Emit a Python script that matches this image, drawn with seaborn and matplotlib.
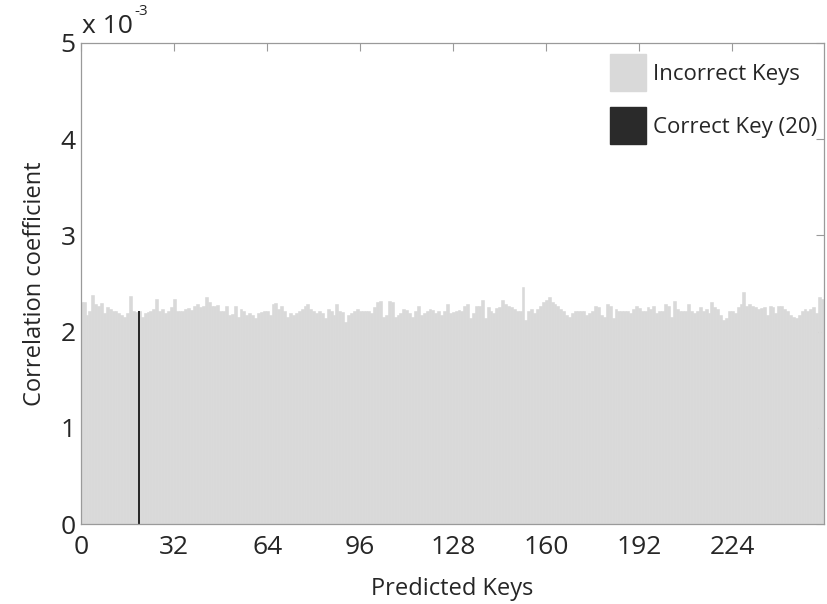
# Correlation of predicted keys (CPA style bar chart)

import numpy as np
import pandas as pd
import matplotlib
matplotlib.use("Agg")
import matplotlib.pyplot as plt
from matplotlib.patches import Patch
import seaborn as sns

# ==========================================
# Data (correlation values in units of 1e-3)
# ==========================================

keys = list(range(256))

corr_values = [
    2.31, 2.31, 2.17, 2.21, 2.38, 2.29, 2.27, 2.30, 2.19, 2.26,
    2.24, 2.21, 2.22, 2.19, 2.17, 2.15, 2.19, 2.37, 2.21, 2.20,
    2.22, 2.15, 2.19, 2.20, 2.21, 2.24, 2.34, 2.21, 2.24, 2.19,
    2.22, 2.26, 2.34, 2.22, 2.21, 2.21, 2.24, 2.25, 2.23, 2.27,
    2.29, 2.26, 2.27, 2.36, 2.31, 2.27, 2.27, 2.28, 2.21, 2.21,
    2.27, 2.17, 2.18, 2.27, 2.15, 2.24, 2.21, 2.17, 2.19, 2.17,
    2.14, 2.19, 2.20, 2.22, 2.21, 2.17, 2.29, 2.30, 2.24, 2.27,
    2.21, 2.15, 2.19, 2.17, 2.19, 2.21, 2.24, 2.27, 2.29, 2.24,
    2.21, 2.19, 2.22, 2.19, 2.14, 2.24, 2.22, 2.17, 2.29, 2.21,
    2.20, 2.10, 2.17, 2.19, 2.22, 2.24, 2.22, 2.22, 2.21, 2.21,
    2.19, 2.26, 2.31, 2.32, 2.15, 2.17, 2.32, 2.31, 2.15, 2.17,
    2.19, 2.24, 2.23, 2.19, 2.15, 2.21, 2.27, 2.17, 2.19, 2.22,
    2.24, 2.23, 2.19, 2.21, 2.17, 2.22, 2.29, 2.19, 2.20, 2.21,
    2.23, 2.22, 2.27, 2.29, 2.14, 2.19, 2.27, 2.27, 2.33, 2.14,
    2.26, 2.22, 2.19, 2.25, 2.26, 2.33, 2.29, 2.27, 2.26, 2.24,
    2.21, 2.22, 2.46, 2.12, 2.21, 2.24, 2.19, 2.24, 2.27, 2.31,
    2.33, 2.36, 2.31, 2.29, 2.27, 2.24, 2.22, 2.17, 2.15, 2.19,
    2.21, 2.22, 2.21, 2.21, 2.17, 2.19, 2.22, 2.27, 2.26, 2.17,
    2.15, 2.29, 2.27, 2.14, 2.24, 2.22, 2.21, 2.22, 2.21, 2.19,
    2.24, 2.27, 2.25, 2.22, 2.22, 2.26, 2.24, 2.27, 2.19, 2.21,
    2.22, 2.29, 2.27, 2.15, 2.32, 2.24, 2.22, 2.21, 2.21, 2.29,
    2.22, 2.19, 2.21, 2.26, 2.22, 2.24, 2.19, 2.31, 2.26, 2.24,
    2.17, 2.12, 2.14, 2.22, 2.21, 2.19, 2.26, 2.29, 2.41, 2.27,
    2.29, 2.27, 2.26, 2.24, 2.25, 2.26, 2.17, 2.27, 2.26, 2.19,
    2.27, 2.27, 2.24, 2.21, 2.17, 2.15, 2.14, 2.17, 2.21, 2.24,
    2.22, 2.24, 2.26, 2.19, 2.36, 2.34,
]

correct_key = 20

x_ticks = [0, 32, 64, 96, 128, 160, 192, 224]
y_ticks = [0, 1, 2, 3, 4, 5]

# ==========================================
# Styling
# ==========================================

sns.set_style("white")
plt.rcParams['font.family'] = ['Open Sans', 'DejaVu Sans']

grey = "#d9d9d9"
dark = "#2a2a2a"
frame = "#9a9a9a"
text_color = "#262626"

df = pd.DataFrame({"key": keys, "corr": corr_values})
df_correct = df[df["key"] == correct_key]

fig = plt.figure(figsize=(8.28, 6.04), dpi=100)
ax = fig.add_axes([0.098, 0.132, 0.897, 0.797])

# all keys in grey
sns.barplot(
    data=df,
    x="key",
    y="corr",
    native_scale=True,
    width=1.0,
    color=grey,
    saturation=1,
    edgecolor=grey,
    linewidth=0.4,
    errorbar=None,
    ax=ax
)

# correct key on top in dark
sns.barplot(
    data=df_correct,
    x="key",
    y="corr",
    native_scale=True,
    width=0.7,
    color=dark,
    saturation=1,
    linewidth=0,
    errorbar=None,
    ax=ax
)

ax.set_xlim(0, 255.5)
ax.set_ylim(0, 5)
ax.set_xticks(x_ticks)
ax.set_xticklabels([str(t) for t in x_ticks])
ax.set_yticks(y_ticks)
ax.set_yticklabels([str(t) for t in y_ticks])

ax.tick_params(
    axis="both", which="both", direction="in",
    top=True, right=True, length=6, width=0.8,
    color=frame, labelsize=19, labelcolor=text_color, pad=4
)
ax.tick_params(axis="x", pad=8)

for side in ax.spines.values():
    side.set_color(frame)
    side.set_linewidth(0.9)
    side.set_zorder(5)

ax.set_xlabel("Predicted Keys", fontsize=17, color=text_color, labelpad=12)
ax.set_ylabel("Correlation coefficient", fontsize=17, color=text_color, labelpad=10)

# exponent label like MATLAB
fig.text(0.099, 0.935, "x 10", fontsize=19,
         color=text_color, ha="left", va="bottom")
fig.text(0.162, 0.993, "-3", fontsize=11,
         color=text_color, ha="left", va="top")

# ==========================================
# Legend
# ==========================================

handles = [
    Patch(facecolor=grey, edgecolor=grey, label="Incorrect Keys"),
    Patch(facecolor=dark, edgecolor=dark, label="Correct Key (20)"),
]

leg = ax.legend(
    handles=handles,
    loc="upper right",
    bbox_to_anchor=(1.006, 1.0),
    frameon=False,
    fontsize=16,
    handlelength=1.65,
    handleheight=2.2,
    handletextpad=0.3,
    labelspacing=0.72,
    borderaxespad=0.1
)
for t in leg.get_texts():
    t.set_color(text_color)

plt.savefig("out.png", dpi=100)
